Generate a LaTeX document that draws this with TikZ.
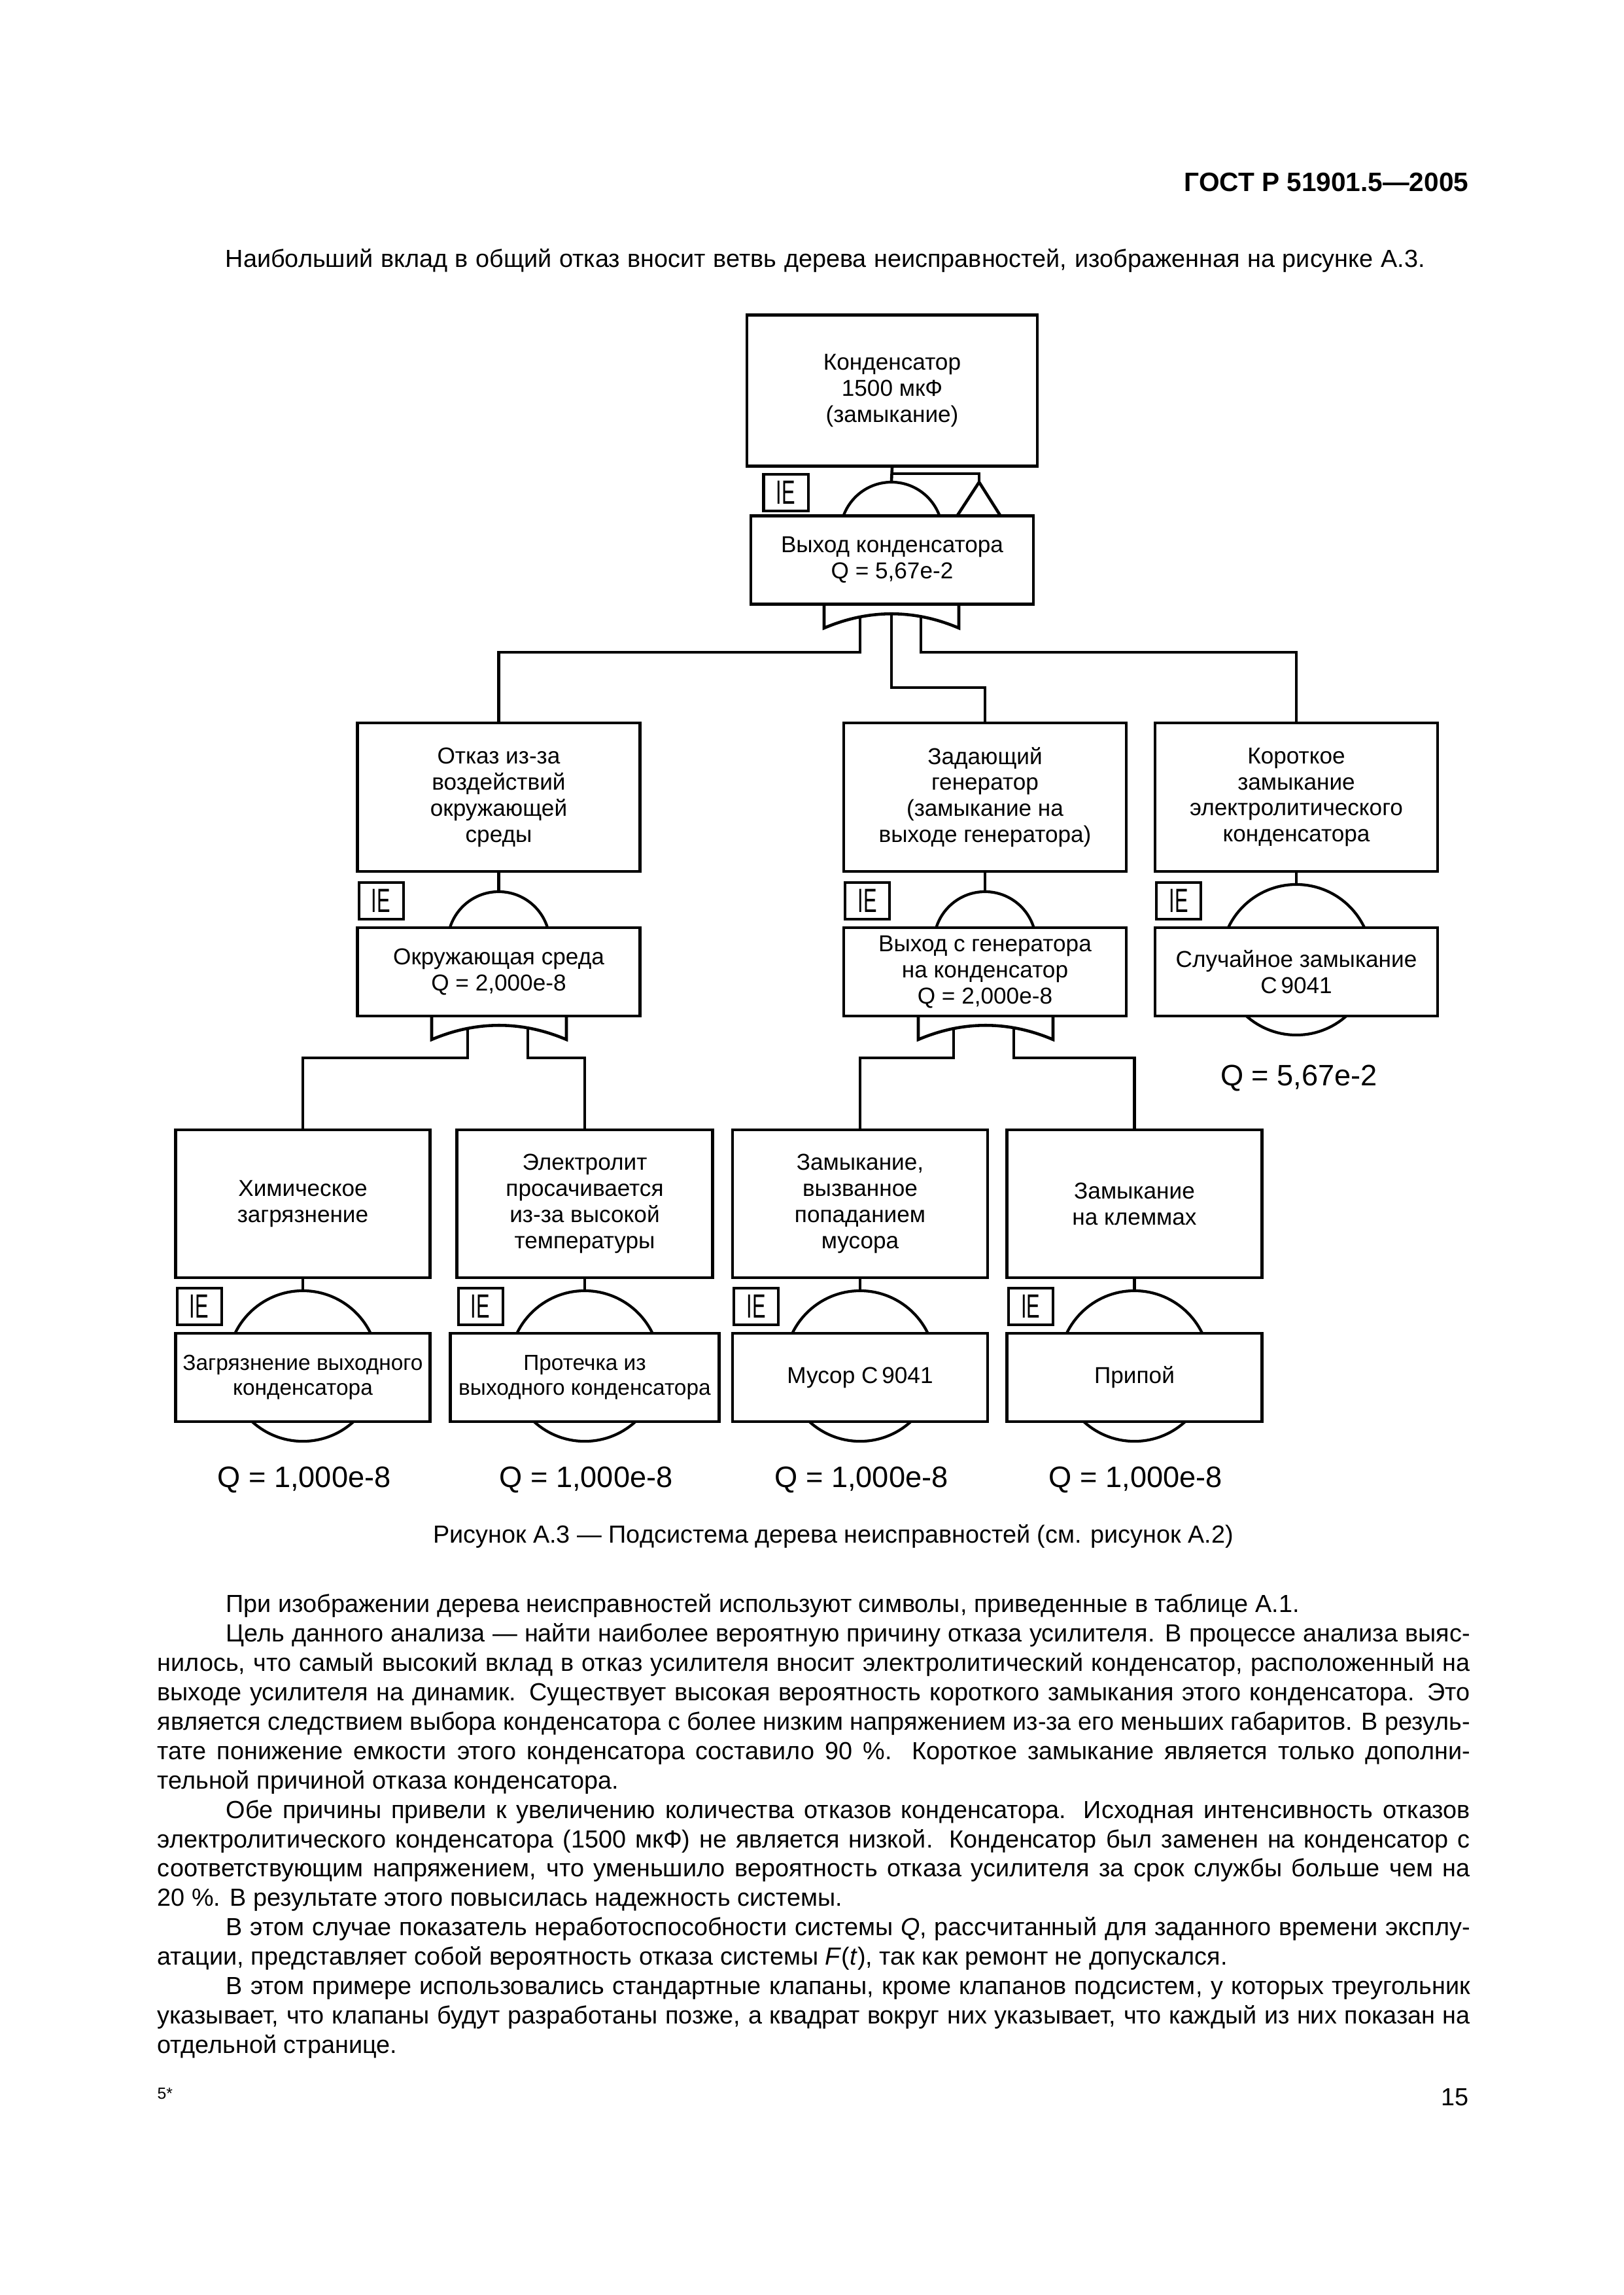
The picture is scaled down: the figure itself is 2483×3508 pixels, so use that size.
\documentclass[tikz,border=0pt]{standalone}
\usepackage{fontspec}
\setmainfont{Liberation Sans}
\newcommand{\fsize}[2]{\fontsize{#1}{#2}\selectfont}
\newcommand{\orgate}[2]{\draw[wire] (#1-103,#2) -- (#1-103,#2+37) .. controls (#1-35,#2+8) and (#1+35,#2+8) .. (#1+103,#2+37) -- (#1+103,#2);}
\tikzset{
	wire/.style={line width=1.3pt,line join=miter},
	evbox/.style 2 args={draw,fill=white,line width=1.3pt,inner sep=0pt,align=center,minimum width=#1*0.01cm,minimum height=#2*0.01cm,font=\fsize{10}{11.35}},
	gatesm/.style={draw,circle,line width=1.2pt,inner sep=0pt,minimum size=1.56cm},
	gatebg/.style={draw,circle,line width=1.2pt,inner sep=0pt,minimum size=2.30cm},
	iebox/.style={draw,line width=1.15pt,inner sep=0pt,minimum width=0.68cm,minimum height=0.56cm,font=\fsize{14.6}{15}},
	qlab/.style={font=\fsize{12.85}{14}},
	pagetxt/.style={font=\fsize{10.75}{12.77}}
}
\begin{document}
\begin{tikzpicture}[x=0.01cm,y=-0.01cm]
	\useasboundingbox (0,0) rectangle (2483,3508);
	\node[anchor=east,inner sep=0pt,font=\bfseries\fsize{11.55}{14}] (head) at (2246,279) {ГОСТ Р 51901.5—2005};
	\node[pagetxt,anchor=west,inner sep=0pt] (intro) at (344,398) {\hbox to 18.33cm{Наибольший вклад в общий отказ вносит ветвь дерева неисправностей, изображенная на рисунке А.3.}};
	% top of the tree
	\node[gatesm] (capgate) at (1363,815) {};
	\coordinate (tri) at (1497,737);
	\draw[wire] (tri) -- (1463,789) (tri) -- (1530,789);
	\node[evbox={432}{135}] (capout) at (1364,856) {Выход конденсатора\\Q = 5,67e-2};
	\node[evbox={444}{231}] (cap) at (1364,597) {Конденсатор\\1500 мкФ\\(замыкание)};
	\node[iebox] (capie) at (1201.5,753) {\scalebox{0.6}[1]{IE}};
	\coordinate (brn) at (0,724);
	\draw[wire] (cap.south) -- (capgate.north);
	\draw[wire] (capgate.north |- brn) -| (tri);
	\orgate{1363}{923}
	\coordinate (ta) at (1315,943);
	\coordinate (tb) at (1363,938);
	\coordinate (tc) at (1408,942);
	\coordinate (busa) at (0,997);
	\coordinate (busb) at (0,1051);
	% second row
	\foreach \nm/\cx/\gy/\gt/\lowtxt/\uptxt in {
		env/762.5/1441/gatesm/{Окружающая среда\\Q = 2,000e-8}/{Отказ из-за\\воздействий\\окружающей\\среды},
		gen/1506/1441/gatesm/{Выход с генератора\\на конденсатор\\Q = 2,000e-8}/{Задающий\\генератор\\(замыкание на\\выходе генератора)},
		shrt/1982/1467/gatebg/{Случайное замыкание\\C\,9041}/{Короткое\\замыкание\\электролитического\\конденсатора}}
	{
		\node[\gt] (\nm gate) at (\cx,\gy) {};
		\node[evbox={432}{135}] (\nm low) at (\cx,1485.5) {\lowtxt};
		\node[evbox={432}{227}] (\nm) at (\cx,1218.5) {\uptxt};
		\node[iebox,anchor=north west] (\nm ie) at (\cx-216,1346.5) {\scalebox{0.6}[1]{IE}};
		\draw[wire] (\nm.south) -- (\nm gate.north);
	}
	\draw[wire] (ta) -- (ta |- busa) -| (env.north);
	\draw[wire] (tb) -- (tb |- busb) -| (gen.north);
	\draw[wire] (tc) -- (tc |- busa) -| (shrt.north);
	\node[qlab] (qshrt) at (1986,1648) {Q = 5,67e-2};
	\orgate{763}{1552}
	\orgate{1507}{1552}
	\coordinate (ea) at (715,1571);
	\coordinate (eb) at (807,1570);
	\coordinate (ga) at (1458,1571);
	\coordinate (gb) at (1550,1570);
	\coordinate (busc) at (0,1617);
	% leaf row
	\foreach \nm/\cx/\lw/\uw/\lowtxt/\uptxt in {
		chem/463/389/389/{Загрязнение выходного\\конденсатора}/{Химическое\\загрязнение},
		leak/894/411/391/{Протечка из\\выходного конденсатора}/{Электролит\\просачивается\\из-за высокой\\температуры},
		dirt/1315/390/390/{\fsize{10}{11.35}Мусор C\,9041}/{Замыкание,\\вызванное\\попаданием\\мусора},
		term/1734.5/390/390/{\fsize{10}{11.35}Припой}/{Замыкание\\на клеммах}}
	{
		\node[gatebg] (\nm gate) at (\cx,2088) {};
		\node[evbox={\lw}{135},font=\fsize{9.5}{10.9}] (\nm low) at (\cx,2105.5) {\lowtxt};
		\node[evbox={\uw}{226}] (\nm) at (\cx,1840) {\uptxt};
		\node[iebox,anchor=north west] (\nm ie) at (\cx-\uw/2,1967) {\scalebox{0.6}[1]{IE}};
		\draw[wire] (\nm.south) -- (\nm gate.north);
		\node[qlab] (\nm q) at (\cx+2,2262) {Q = 1,000e-8};
	}
	\draw[wire] (ea) -- (ea |- busc) -| (chem.north);
	\draw[wire] (eb) -- (eb |- busc) -| (leak.north);
	\draw[wire] (ga) -- (ga |- busc) -| (dirt.north);
	\draw[wire] (gb) -- (gb |- busc) -| (term.north);
	% page text
	\node[pagetxt] (capt) at (1274,2348) {Рисунок А.3 — Подсистема дерева неисправностей (см. рисунок А.2)};
	\node[pagetxt,anchor=north west,inner sep=0pt,text width=20.06cm,align=justify] (body) at (240,2436) {\tolerance=9999
		\hspace*{1.05cm}При изображении дерева неисправностей используют символы, приведенные в таблице А.1.\par
		\hspace*{1.05cm}Цель данного анализа — найти наиболее вероятную причину отказа усилителя. В процессе анализа выяс-\linebreak
		нилось, что самый высокий вклад в отказ усилителя вносит электролитический конденсатор, расположенный на\linebreak
		выходе усилителя на динамик. Существует высокая вероятность короткого замыкания этого конденсатора. Это\linebreak
		является следствием выбора конденсатора с более низким напряжением из-за его меньших габаритов. В резуль-\linebreak
		тате понижение емкости этого конденсатора составило 90~\%. Короткое замыкание является только дополни-\linebreak
		тельной причиной отказа конденсатора.\par
		\hspace*{1.05cm}Обе причины привели к увеличению количества отказов конденсатора. Исходная интенсивность отказов\linebreak
		электролитического конденсатора (1500 мкФ) не является низкой. Конденсатор был заменен на конденсатор с\linebreak
		соответствующим напряжением, что уменьшило вероятность отказа усилителя за срок службы больше чем на\linebreak
		20~\%. В результате этого повысилась надежность системы.\par
		\hspace*{1.05cm}В этом случае показатель неработоспособности системы \textit{Q}, рассчитанный для заданного времени эксплу-\linebreak
		атации, представляет собой вероятность отказа системы \textit{F}(\textit{t}), так как ремонт не допускался.\par
		\hspace*{1.05cm}В этом примере использовались стандартные клапаны, кроме клапанов подсистем, у которых треугольник\linebreak
		указывает, что клапаны будут разработаны позже, а квадрат вокруг них указывает, что каждый из них показан на\linebreak
		отдельной странице.};
	\node[anchor=west,inner sep=0pt,font=\fsize{7}{8}] (sig) at (240,3200) {5*};
	\node[pagetxt,anchor=east,inner sep=0pt] (pgno) at (2246,3206) {15};
\end{tikzpicture}
\end{document}
